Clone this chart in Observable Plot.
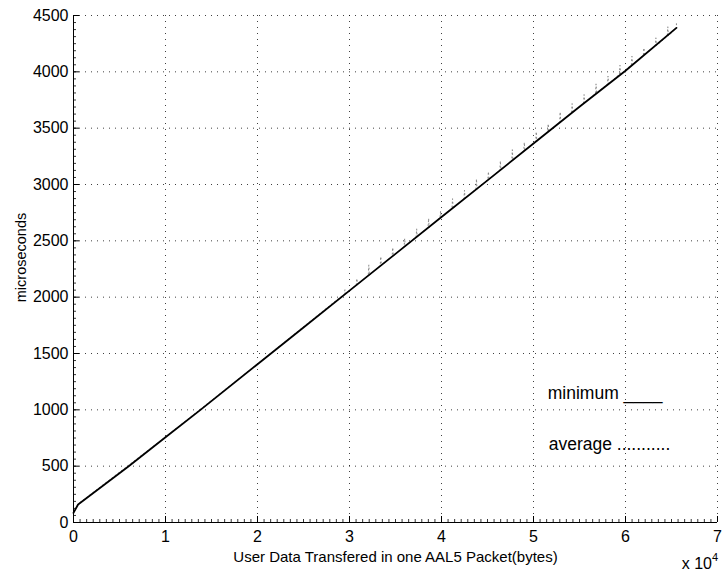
<!DOCTYPE html>
<html>
<head>
<meta charset="utf-8">
<script src="https://cdn.jsdelivr.net/npm/d3@7"></script>
<script src="https://cdn.jsdelivr.net/npm/@observablehq/plot@0.6"></script>
<style>
  html, body { margin: 0; padding: 0; background: #fff; }
  #chart { width: 722px; height: 573px; }
</style>
</head>
<body>
<div id="chart"></div>
<script>
// ---- data ----
const xTicks = [0, 10000, 20000, 30000, 40000, 50000, 60000, 70000];
const xTickLabels = ["0", "1", "2", "3", "4", "5", "6", "7"];
const yTicks = [0, 500, 1000, 1500, 2000, 2500, 3000, 3500, 4000, 4500];
const yTickLabels = ["0", "500", "1000", "1500", "2000", "2500", "3000", "3500", "4000", "4500"];

// minimum (solid line)
const minBytes  = [0, 500, 6000, 10000, 13800, 20000, 25000, 30000, 35000, 40000, 45000, 50000, 55000, 60000, 65536];
const minMicros = [86, 160, 500, 756, 1000, 1405, 1731, 2058, 2384, 2711, 3037, 3364, 3690, 4010, 4390];

// average (dotted line): follows the minimum, then narrow spikes above it
const avgLeadBytes  = [0, 500, 10000, 20000, 28800];
const avgLeadMicros = [90, 165, 760, 1408, 1988];
const spikeBytes = [29500, 30800, 32100, 33400, 34700, 36000, 37300, 38600, 39900, 41200, 42500, 43800, 45100, 46400,
                    47700, 49000, 50300, 51600, 52900, 54200, 55500, 56800, 58100, 59400, 60700, 62000, 63300, 64600];
const spikeBase  = [2025, 2110, 2195, 2280, 2365, 2450, 2535, 2619, 2704, 2789, 2874, 2959, 3044, 3129,
                    3214, 3299, 3383, 3468, 3553, 3638, 3723, 3808, 3893, 3978, 4063, 4147, 4232, 4317];
const spikePeak  = [2065, 2165, 2285, 2360, 2440, 2520, 2605, 2699, 2764, 2874, 2949, 3049, 3114, 3209,
                    3309, 3374, 3468, 3538, 3643, 3718, 3798, 3893, 3963, 4058, 4138, 4212, 4302, 4400];
const avgTailBytes  = [65536, 65536];
const avgTailMicros = [4392, 4450];

const legendLabels = ["minimum ____", "average ..........."];
const xLabel = "User Data Transfered in one AAL5 Packet(bytes)";
const yLabel = "microseconds";

// ---- build tables ----
const minRows = minBytes.map((b, i) => ({bytes: b, us: minMicros[i]}));
const avgRows = avgLeadBytes.map((b, i) => ({bytes: b, us: avgLeadMicros[i]}));
spikeBytes.forEach((b, i) => {
  avgRows.push({bytes: b - 60, us: spikeBase[i]});
  avgRows.push({bytes: b, us: spikePeak[i]});
  avgRows.push({bytes: b + 60, us: spikeBase[i]});
});
avgTailBytes.forEach((b, i) => avgRows.push({bytes: b, us: avgTailMicros[i]}));

const minorX = d3.range(0, 70001, 10000 / 14);
const minorY = d3.range(0, 4501, 62.5);

const W = 722, H = 573, mL = 73, mR = 5, mT = 15, mB = 51;
const fw = W - mL - mR, fh = H - mT - mB;
const font = "'Liberation Sans', Arial, Helvetica, sans-serif";

const chart = Plot.plot({
  width: W, height: H,
  marginLeft: mL, marginRight: mR, marginTop: mT, marginBottom: mB,
  style: {fontFamily: font, fontSize: "16px", color: "#000", background: "#fff", overflow: "visible"},
  x: {domain: [0, 70000]},
  y: {domain: [0, 4500]},
  marks: [
    Plot.gridX(xTicks.slice(1), {stroke: "#000", strokeOpacity: 0.75, strokeDasharray: "1,5"}),
    Plot.gridY(yTicks.slice(1), {stroke: "#000", strokeOpacity: 0.75, strokeDasharray: "1,5"}),
    Plot.line(avgRows, {x: "bytes", y: "us", stroke: "#888", strokeWidth: 1, strokeDasharray: "1,3"}),
    Plot.line(minRows, {x: "bytes", y: "us", stroke: "#000", strokeWidth: 1.8}),
    Plot.ruleY([0], {stroke: "#000", strokeWidth: 1}),
    Plot.ruleX([0], {stroke: "#000", strokeWidth: 1}),
    Plot.tickX(minorX, {x: d => d, insetTop: fh - 3, stroke: "#000", strokeWidth: 0.8}),
    Plot.tickY(minorY, {y: d => d, insetRight: fw - 3, stroke: "#000", strokeWidth: 0.8}),
    Plot.tickX(xTicks, {x: d => d, insetTop: fh - 6, stroke: "#000"}),
    Plot.tickY(yTicks, {y: d => d, insetRight: fw - 6, stroke: "#000"}),
    Plot.axisX({ticks: xTicks, tickFormat: (d) => xTickLabels[xTicks.indexOf(d)], tickSize: 0, tickPadding: 8, label: null, fontSize: 16}),
    Plot.axisY({ticks: yTicks, tickFormat: (d) => yTickLabels[yTicks.indexOf(d)], tickSize: 0, tickPadding: 5, label: null, fontSize: 16}),
    Plot.text([xLabel], {frameAnchor: "bottom", textAnchor: "middle", lineAnchor: "middle", dy: 35, text: d => d, fontSize: 15}),
    Plot.text([yLabel], {frameAnchor: "left", textAnchor: "middle", lineAnchor: "middle", rotate: -90, dx: -52, dy: -11.5, text: d => d, fontSize: 14.5}),
    Plot.text(["x 10"], {frameAnchor: "bottom-right", textAnchor: "end", lineAnchor: "middle", dx: -5.5, dy: 41, text: d => d, fontSize: 16}),
    Plot.text(["4"], {frameAnchor: "bottom-right", textAnchor: "end", lineAnchor: "middle", dx: 0.5, dy: 35, text: d => d, fontSize: 11}),
    Plot.text([legendLabels[0]], {x: 51550, y: 1145, text: d => d, textAnchor: "start", lineAnchor: "middle", fontSize: 17.5}),
    Plot.text([legendLabels[1]], {x: 51650, y: 695, text: d => d, textAnchor: "start", lineAnchor: "middle", fontSize: 17.5})
  ]
});
document.getElementById("chart").appendChild(chart);
</script>
</body>
</html>
